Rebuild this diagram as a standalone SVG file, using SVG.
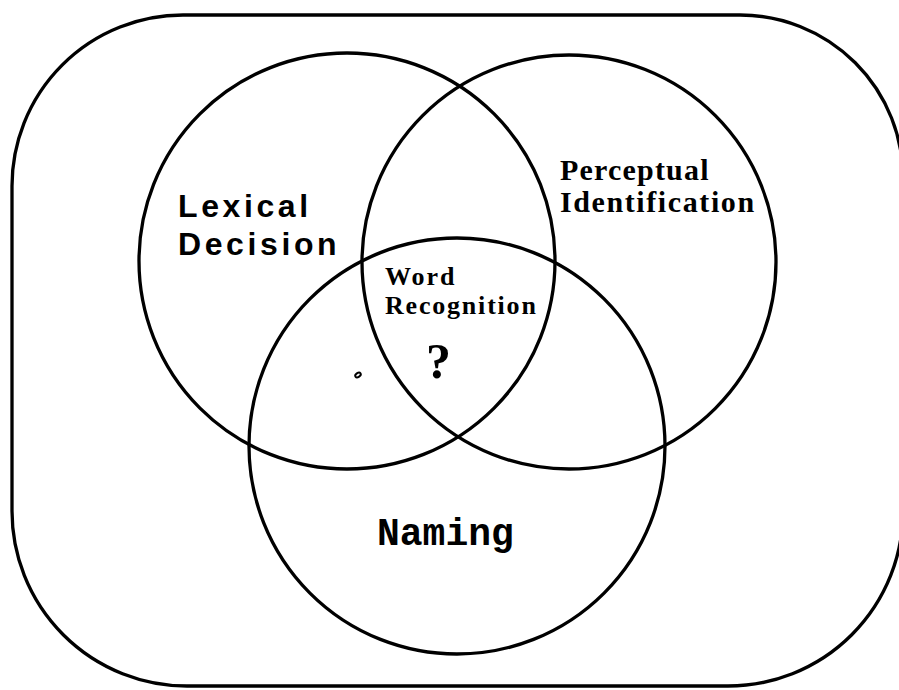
<svg xmlns="http://www.w3.org/2000/svg" width="899" height="690" viewBox="0 0 899 690">
<style>
.ln{fill:none;stroke:#000;stroke-width:3.3}
.sans{font-family:"Liberation Sans",Arial,sans-serif;font-weight:bold;fill:#000}
.serif{font-family:"Liberation Serif","Times New Roman",serif;font-weight:bold;fill:#000}
.mono{font-family:"Liberation Mono","Courier New",monospace;font-weight:bold;fill:#000}
</style>
<rect width="899" height="690" fill="#fff"/>
<g id="frame">
<path class="ln" d="M183 15 H740 A163 163 0 0 1 903 178 V511 A175 175 0 0 1 728 686 H187 A175 175 0 0 1 12 511 V186 A171 171 0 0 1 183 15 Z"/>
</g>
<g id="lexical-decision">
<circle class="ln" cx="347" cy="261" r="208"/>
<text class="sans" x="178" y="217" font-size="32" letter-spacing="3.6">Lexical</text>
<text class="sans" x="178" y="255" font-size="32" letter-spacing="3.6">Decision</text>
</g>
<g id="perceptual-identification">
<circle class="ln" cx="569" cy="262" r="207"/>
<text class="serif" x="560" y="180" font-size="30" letter-spacing="1.2">Perceptual</text>
<text class="serif" x="560" y="212" font-size="30" letter-spacing="1.6">Identification</text>
</g>
<g id="naming">
<circle class="ln" cx="457" cy="446" r="208"/>
<text class="mono" x="377" y="545" font-size="38">Naming</text>
</g>
<g id="word-recognition">
<text class="serif" x="385" y="285" font-size="26" letter-spacing="2">Word</text>
<text class="serif" x="385" y="314" font-size="26" letter-spacing="1.8">Recognition</text>
<text class="serif" x="426" y="378" font-size="50">?</text>
</g>
<ellipse cx="358" cy="375" rx="3" ry="2" transform="rotate(-35 358 375)" fill="none" stroke="#000" stroke-width="2"/>
</svg>
